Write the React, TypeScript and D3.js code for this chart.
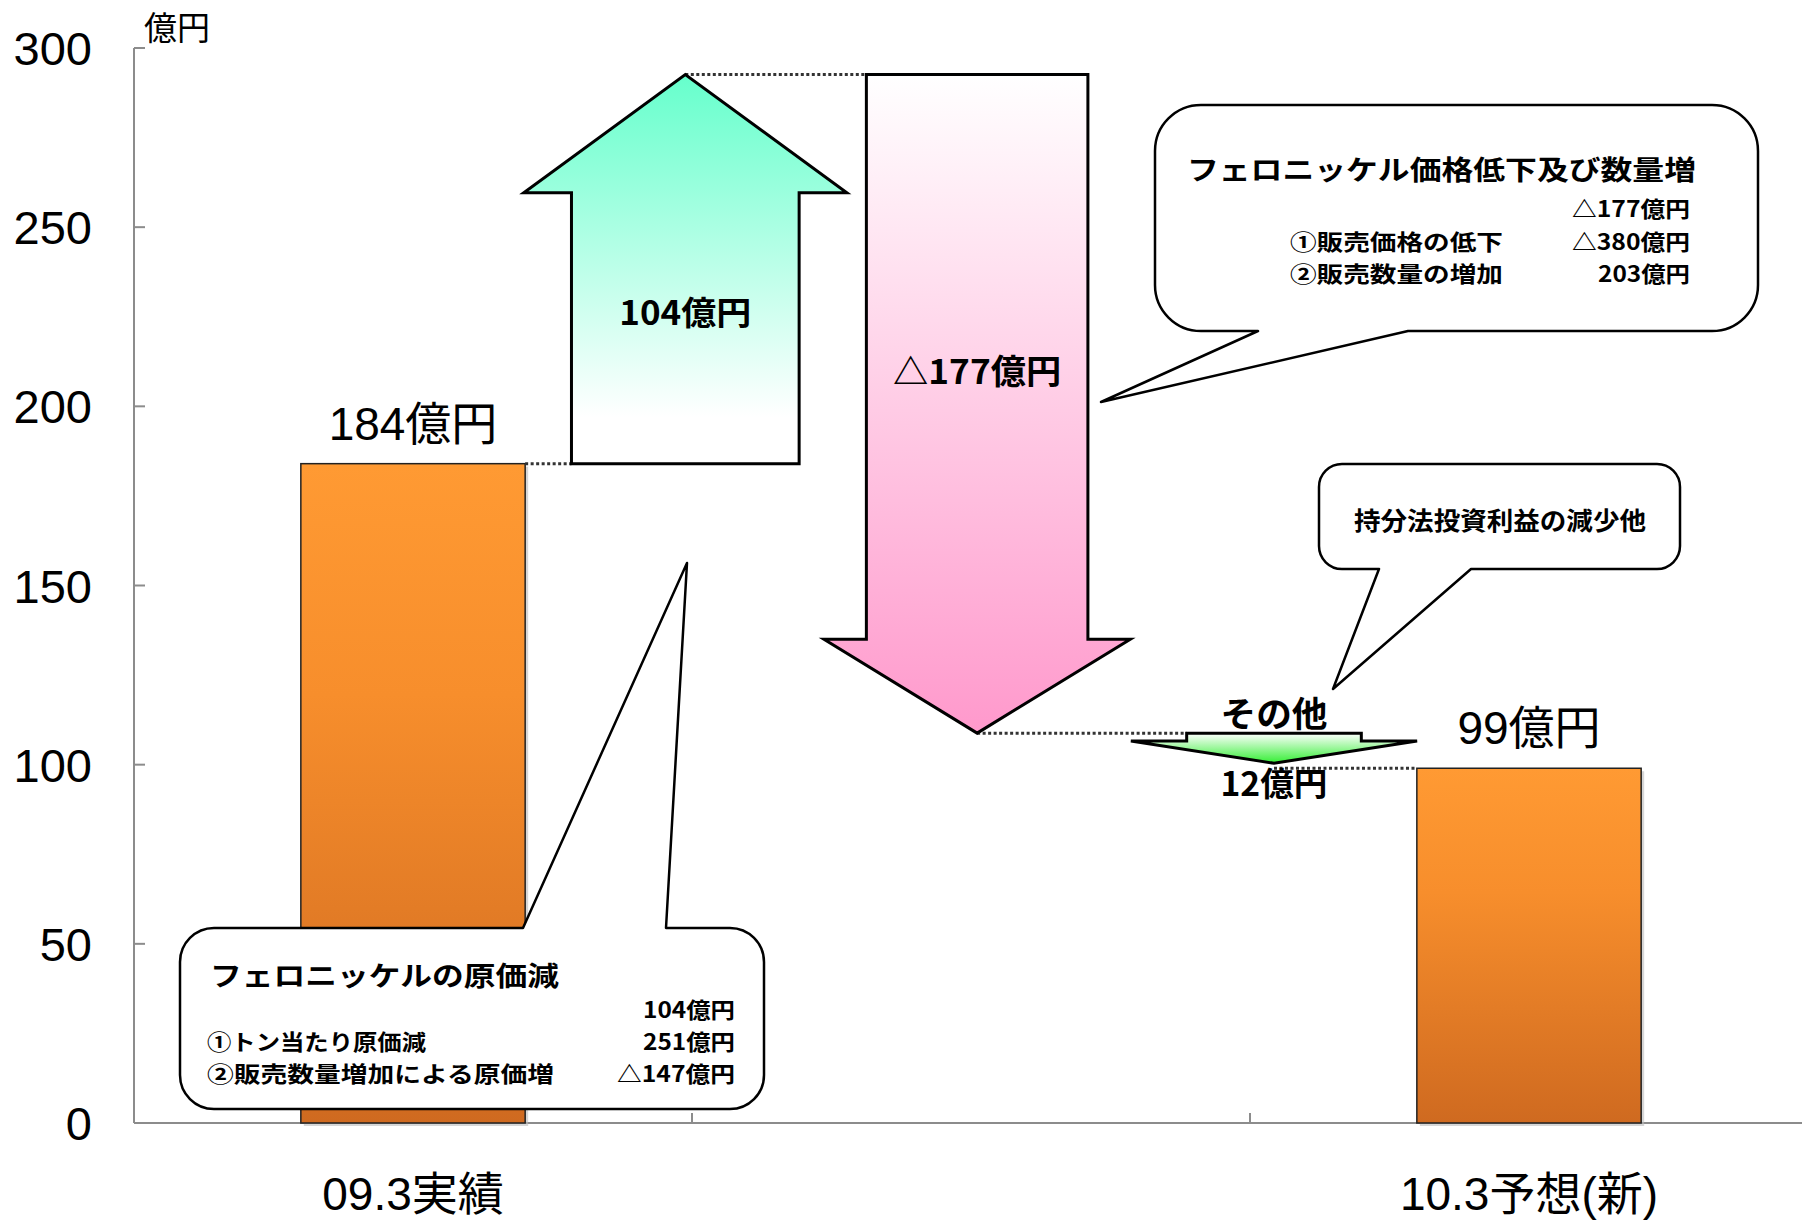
import * as d3 from "d3";

// categories on the x axis (middle slot carries the bridge arrows)
const CATEGORIES = ["09.3実績", "", "10.3予想(新)"];
const BAR_VALUES = [184, null, 99];
const BAR_LABELS = ["184億円", "", "99億円"];
const Y_TICKS = [0, 50, 100, 150, 200, 250, 300];

// bridge arrows, start / end / head-base (億円)
const ARROW_LABELS = ["104億円", "△177億円", "12億円"];
const ARROW_START = [184, 292.6, 108.8];
const ARROW_END = [292.6, 108.8, 100.4];
const ARROW_HEAD_BASE = [259.6, 135, 106.6];

const CALLOUT_COST = [
    { text: "フェロニッケルの原価減", value: "104億円" },
    { text: "①トン当たり原価減", value: "251億円" },
    { text: "②販売数量増加による原価増", value: "△147億円" },
];
const CALLOUT_PRICE = [
    { text: "フェロニッケル価格低下及び数量増", value: "△177億円" },
    { text: "①販売価格の低下", value: "△380億円" },
    { text: "②販売数量の増加", value: "203億円" },
];
const CALLOUT_OTHER = "持分法投資利益の減少他";

const W = 1802;
const H = 1221;
const PLOT = { left: 134, right: 1808, top: 48, bottom: 1123 };

const NUM_FONT = "'Liberation Sans', Arial, 'Noto Sans CJK JP', sans-serif";
const JP_FONT = "'Noto Sans CJK JP', 'Noto Sans CJK SC', sans-serif";

// layout of the arrows in category units (centre, shaft width, head width)
const ARROW_LAYOUT = [
    { pos: 0.988, shaft: 0.408, head: 0.579, fill: "url(#gUp)" },
    { pos: 1.511, shaft: 0.397, head: 0.549, fill: "url(#gDown)" },
    { pos: 2.043, shaft: 0.313, head: 0.513, fill: "url(#gSmall)" },
];

function calloutPath(
    x0: number, y0: number, x1: number, y1: number, r: number,
    side: "top" | "bottom", pa: number, pb: number, tx: number, ty: number,
) {
    const a = (x: number, y: number) => `A${r},${r} 0 0 1 ${x},${y}`;
    if (side === "top") {
        return [
            `M${x0 + r},${y0}`, `L${pa},${y0}`, `L${tx},${ty}`, `L${pb},${y0}`, `L${x1 - r},${y0}`,
            a(x1, y0 + r), `L${x1},${y1 - r}`, a(x1 - r, y1), `L${x0 + r},${y1}`,
            a(x0, y1 - r), `L${x0},${y0 + r}`, a(x0 + r, y0), "Z",
        ].join(" ");
    }
    return [
        `M${x0 + r},${y0}`, `L${x1 - r},${y0}`, a(x1, y0 + r), `L${x1},${y1 - r}`, a(x1 - r, y1),
        `L${pb},${y1}`, `L${tx},${ty}`, `L${pa},${y1}`, `L${x0 + r},${y1}`,
        a(x0, y1 - r), `L${x0},${y0 + r}`, a(x0 + r, y0), "Z",
    ].join(" ");
}

// condensed bold callout line; width fixed to the reference's
function Line({ x, y, w, size = 22, anchor = "start", children }: { x: number; y: number; w: number; size?: number; anchor?: string; children: string }) {
    return (
        <text x={x} y={y} fontSize={size} textAnchor={anchor} textLength={w} lengthAdjust="spacingAndGlyphs">
            {children}
        </text>
    );
}

export default function App() {
    const y = d3.scaleLinear().domain([0, 300]).range([PLOT.bottom, PLOT.top]);
    const x = d3.scaleBand<number>().domain(d3.range(CATEGORIES.length)).range([PLOT.left, PLOT.right]);
    const unit = d3.scaleLinear().domain([0, CATEGORIES.length]).range([PLOT.left, PLOT.right]);
    const bw = x.bandwidth() * 0.402;
    const cx = (i: number) => (x(i) as number) + x.bandwidth() / 2;

    const arrows = ARROW_LABELS.map((label, i) => {
        const L = ARROW_LAYOUT[i];
        const c = unit(L.pos);
        const sw = (unit(L.shaft) - unit(0)) / 2;
        const hw = (unit(L.head) - unit(0)) / 2;
        const yb = y(ARROW_START[i]);
        const yh = y(ARROW_HEAD_BASE[i]);
        const yt = y(ARROW_END[i]);
        const pts: [number, number][] = [
            [c - sw, yb], [c - sw, yh], [c - hw, yh], [c, yt], [c + hw, yh], [c + sw, yh], [c + sw, yb],
        ];
        return { label, c, sw, hw, yb, yt, yh, fill: L.fill, d: d3.line()(pts) + "Z" };
    });

    // dotted connectors: bar -> arrow -> arrow -> arrow -> bar
    const connectors = [
        { x1: cx(0) + bw / 2, x2: arrows[0].c - arrows[0].sw, y: y(BAR_VALUES[0] as number) },
        { x1: arrows[0].c, x2: arrows[1].c - arrows[1].sw, y: arrows[0].yt },
        { x1: arrows[1].c, x2: arrows[2].c - arrows[2].sw, y: arrows[1].yt },
        { x1: arrows[2].c, x2: cx(2) - bw / 2, y: y(BAR_VALUES[2] as number) },
    ];

    return (
        <svg width={W} height={H} style={{ position: "absolute", left: 0, top: 0, background: "#fff" }}>
            <defs>
                <linearGradient id="gBar" x1="0" y1="0" x2="0" y2="1">
                    <stop offset="0" stopColor="#FF9A33" />
                    <stop offset="0.35" stopColor="#F78E2C" />
                    <stop offset="1" stopColor="#CF6A20" />
                </linearGradient>
                <linearGradient id="gUp" x1="0" y1="0" x2="0" y2="1">
                    <stop offset="0" stopColor="#66FFCC" />
                    <stop offset="0.88" stopColor="#FFFFFF" />
                </linearGradient>
                <linearGradient id="gDown" x1="0" y1="0" x2="0" y2="1">
                    <stop offset="0" stopColor="#FFFFFF" />
                    <stop offset="1" stopColor="#FF99CC" />
                </linearGradient>
                <linearGradient id="gSmall" x1="0" y1="0" x2="0" y2="1">
                    <stop offset="0" stopColor="#FFFFFF" />
                    <stop offset="1" stopColor="#33EE33" />
                </linearGradient>
            </defs>

            {/* axes */}
            <g stroke="#8c8c8c" strokeWidth={2}>
                <line x1={PLOT.left} x2={PLOT.left} y1={y(0)} y2={y(300)} />
                <line x1={PLOT.left} x2={W} y1={y(0)} y2={y(0)} />
                {Y_TICKS.map((t) => (
                    <line key={t} x1={PLOT.left} x2={PLOT.left + 11} y1={y(t)} y2={y(t)} />
                ))}
                {d3.range(1, CATEGORIES.length).map((i) => (
                    <line key={i} x1={x(i)} x2={x(i)} y1={y(0)} y2={y(0) - 10} />
                ))}
            </g>
            {Y_TICKS.map((t) => (
                <text key={t} x={92} y={y(t) + 17} textAnchor="end" fontFamily={NUM_FONT} fontSize={47}>
                    {t}
                </text>
            ))}
            <text x={144} y={40} fontFamily={JP_FONT} fontSize={33}>億円</text>
            {CATEGORIES.map((c, i) =>
                c ? (
                    <text key={i} x={cx(i)} y={1210} textAnchor="middle" fontFamily={NUM_FONT} fontSize={46}>
                        {c}
                    </text>
                ) : null,
            )}

            {/* bars */}
            {BAR_VALUES.map((v, i) =>
                v == null ? null : (
                    <g key={i}>
                        <rect x={cx(i) - bw / 2 + 3} y={y(v) + 3} width={bw} height={y(0) - y(v)} fill="#bbb" opacity={0.6} />
                        <rect x={cx(i) - bw / 2} y={y(v)} width={bw} height={y(0) - y(v)} fill="url(#gBar)" stroke="#222" strokeWidth={1.5} />
                        <text x={cx(i)} y={y(v) - 24} textAnchor="middle" fontFamily={NUM_FONT} fontSize={46}>
                            {BAR_LABELS[i]}
                        </text>
                    </g>
                ),
            )}

            {connectors.map((c, i) => (
                <line key={i} x1={c.x1} x2={c.x2} y1={c.y} y2={c.y} stroke="#333" strokeWidth={3} strokeDasharray="3 2.5" />
            ))}

            {arrows.map((a, i) => (
                <path key={i} d={a.d} fill={a.fill} stroke="#000" strokeWidth={3} strokeLinejoin="miter" />
            ))}
            <g fontFamily={JP_FONT} fontWeight={700}>
                <Line x={arrows[0].c} y={325} w={132} size={33} anchor="middle">{arrows[0].label}</Line>
                <Line x={arrows[1].c} y={384} w={168} size={34} anchor="middle">{arrows[1].label}</Line>
                <Line x={arrows[2].c} y={727} w={107} size={35} anchor="middle">その他</Line>
                <Line x={arrows[2].c} y={796} w={107} size={33} anchor="middle">{arrows[2].label}</Line>
            </g>

            {/* callouts */}
            <g fill="#fff" stroke="#000" strokeWidth={2.5} strokeLinejoin="round">
                <path d={calloutPath(180, 928, 764, 1109, 34, "top", 523, 666, 687, 563)} />
                <path d={calloutPath(1155, 105, 1758, 331, 46, "bottom", 1258, 1408, 1101, 402)} />
                <path d={calloutPath(1319, 464, 1680, 569, 23, "bottom", 1379, 1471, 1333, 689)} />
            </g>

            <g fontFamily={JP_FONT} fontWeight={700}>
                <Line x={210} y={986} w={349} size={27}>{CALLOUT_COST[0].text}</Line>
                <Line x={735} y={1018} w={92} anchor="end">{CALLOUT_COST[0].value}</Line>
                <Line x={207} y={1050} w={219}>{CALLOUT_COST[1].text}</Line>
                <Line x={735} y={1050} w={92} anchor="end">{CALLOUT_COST[1].value}</Line>
                <Line x={207} y={1082} w={347}>{CALLOUT_COST[2].text}</Line>
                <Line x={735} y={1082} w={118} anchor="end">{CALLOUT_COST[2].value}</Line>

                <Line x={1187} y={180} w={509} size={27}>{CALLOUT_PRICE[0].text}</Line>
                <Line x={1690} y={217} w={118} anchor="end">{CALLOUT_PRICE[0].value}</Line>
                <Line x={1290} y={250} w={213}>{CALLOUT_PRICE[1].text}</Line>
                <Line x={1690} y={250} w={118} anchor="end">{CALLOUT_PRICE[1].value}</Line>
                <Line x={1290} y={282} w={213}>{CALLOUT_PRICE[2].text}</Line>
                <Line x={1690} y={282} w={92} anchor="end">{CALLOUT_PRICE[2].value}</Line>

                <Line x={1500} y={530} w={292} size={25} anchor="middle">{CALLOUT_OTHER}</Line>
            </g>
        </svg>
    );
}
